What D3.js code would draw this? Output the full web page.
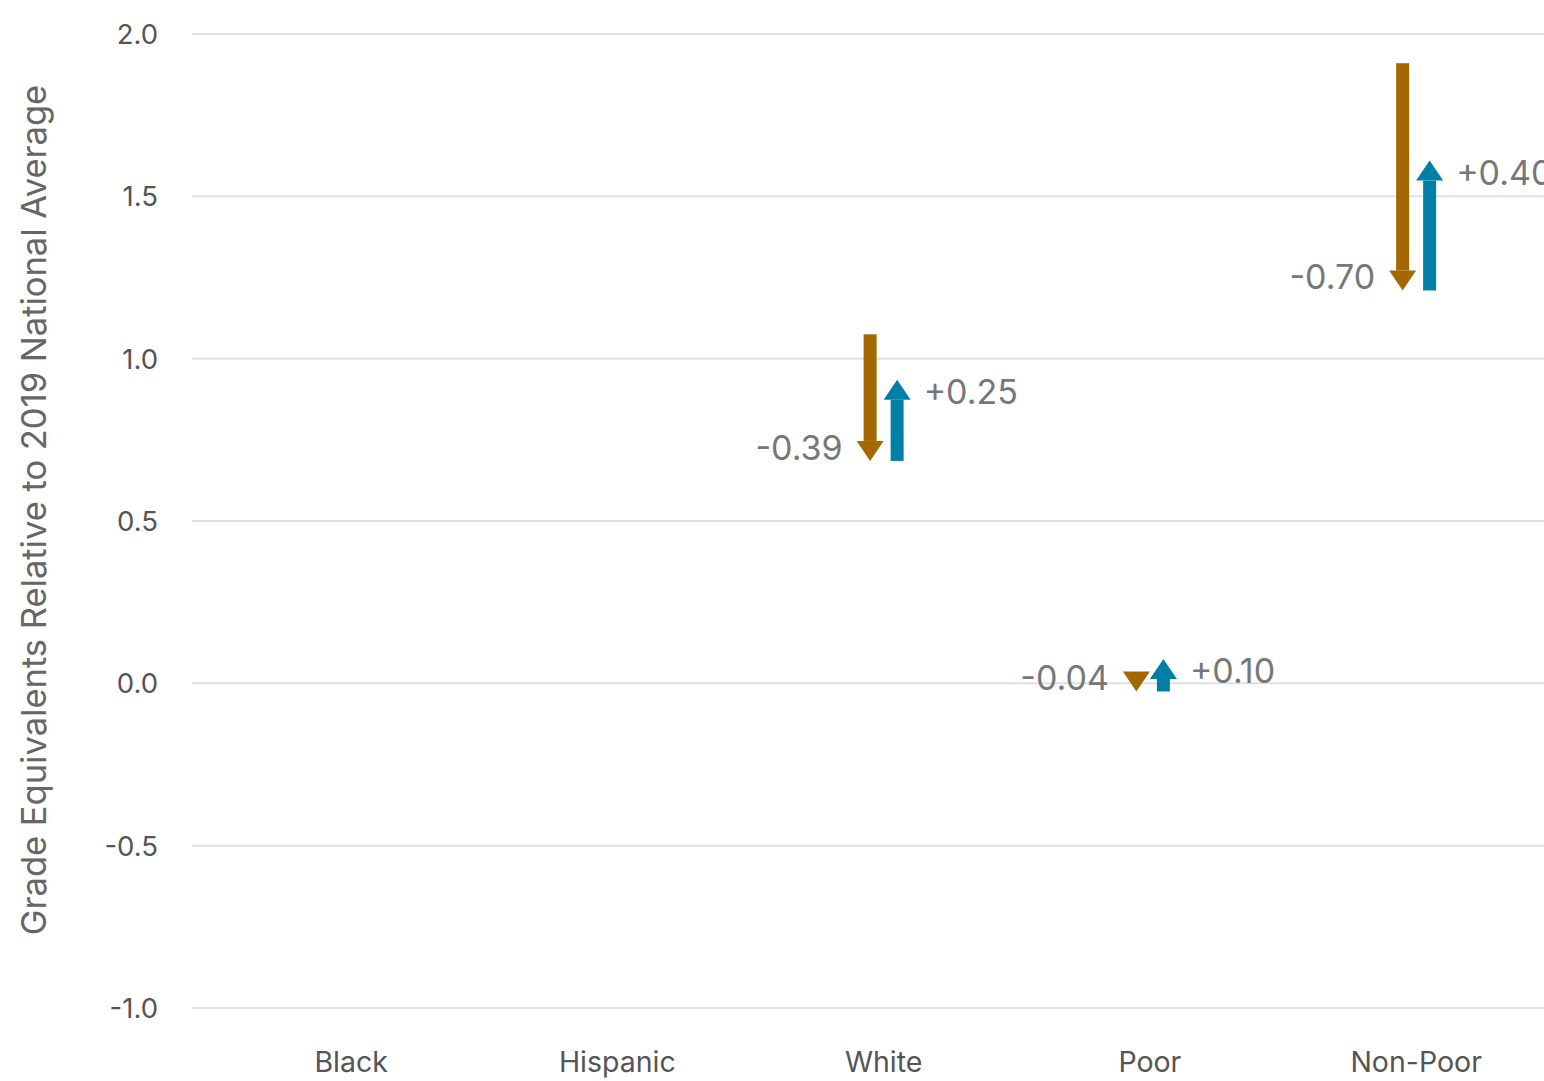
<!DOCTYPE html>
<html>
<head>
<meta charset="utf-8">
<script src="https://cdn.jsdelivr.net/npm/d3@7"></script>
<style>
  body { margin: 0; background: #fff; }
  text { font-family: Inter, "Liberation Sans", Arial, sans-serif; }
</style>
</head>
<body>
<div id="cont"></div>
<script>
// data
var categories = ["Black", "Hispanic", "White", "Poor", "Non-Poor"];
var startValues = [null, null, 1.075, 0.015, 1.91];   // before the drop
var dropValues  = [null, null, -0.39, -0.04, -0.70];  // brown arrow
var riseValues  = [null, null, 0.25, 0.10, 0.40];     // blue arrow
var yTicks = [-1.0, -0.5, 0.0, 0.5, 1.0, 1.5, 2.0];

var W = 1544, H = 1081;
var brown = "#A36800", blue = "#0080A6";

var svg = d3.select("#cont").append("svg")
    .attr("width", W)
    .attr("height", H);

// set the ranges
var x = d3.scaleBand().domain(categories).range([218, 1549.25]);
var y = d3.scaleLinear().domain([-1, 2]).range([1008, 34]);

// gridlines
svg.append("g").selectAll("line")
    .data(yTicks)
  .enter().append("line")
    .attr("x1", 192).attr("x2", W)
    .attr("y1", function(d) { return y(d); })
    .attr("y2", function(d) { return y(d); })
    .style("stroke", "#e0e0e0")
    .style("stroke-width", 2);

// y tick labels
svg.append("g").selectAll("text")
    .data(yTicks)
  .enter().append("text")
    .attr("x", 158)
    .attr("y", function(d) { return y(d); })
    .attr("dy", "0.36em")
    .attr("text-anchor", "end")
    .style("font-size", "27.5px")
    .style("fill", "#555")
    .text(function(d) { return d3.format(".1f")(d).replace("−", "-"); });

// x labels
svg.append("g").selectAll("text")
    .data(categories)
  .enter().append("text")
    .attr("x", function(d) { return x(d) + x.bandwidth() / 2; })
    .attr("y", 1072)
    .attr("text-anchor", "middle")
    .style("font-size", "28.5px")
    .style("fill", "#555")
    .text(function(d) { return d; });

// y axis title
svg.append("text")
    .attr("transform", "translate(46,510) rotate(-90)")
    .attr("text-anchor", "middle")
    .style("font-size", "34.5px")
    .style("fill", "#666")
    .text("Grade Equivalents Relative to 2019 National Average");

// arrow drawing: shaft + head, tip at y(to)
var shaftW = 13, headW = 27, headL = 20;
function arrow(g, cx, from, to, color) {
  var y0 = y(from), y1 = y(to);
  var dir = y1 > y0 ? 1 : -1;          // 1 = pointing down
  var base = y1 - dir * headL;
  if ((base - y0) * dir > 0) {
    g.append("rect")
        .attr("x", cx - shaftW / 2)
        .attr("y", Math.min(y0, base))
        .attr("width", shaftW)
        .attr("height", Math.abs(base - y0))
        .style("fill", color);
  }
  g.append("path")
      .attr("d", "M" + (cx - headW / 2) + "," + base +
                 "L" + (cx + headW / 2) + "," + base +
                 "L" + cx + "," + y1 + "Z")
      .style("fill", color);
  return base;
}

var marks = svg.append("g");
var fmt = d3.format(".2f");
categories.forEach(function(c, i) {
  if (startValues[i] == null) return;
  var cx = x(c) + x.bandwidth() / 2;
  var mid = startValues[i] + dropValues[i];
  var end = mid + riseValues[i];
  arrow(marks, cx - 13.5, startValues[i], mid, brown);
  var blueBase = arrow(marks, cx + 13.5, mid, end, blue);

  marks.append("text")
      .attr("x", cx - 41)
      .attr("y", y(mid) - 1)
      .attr("text-anchor", "end")
      .style("font-size", "34px")
      .style("fill", "#777")
      .text("-" + fmt(Math.abs(dropValues[i])));

  marks.append("text")
      .attr("x", cx + 40)
      .attr("y", blueBase + 4)
      .style("font-size", "34px")
      .style("fill", "#777")
      .text("+" + fmt(riseValues[i]));
});
</script>
</body>
</html>
